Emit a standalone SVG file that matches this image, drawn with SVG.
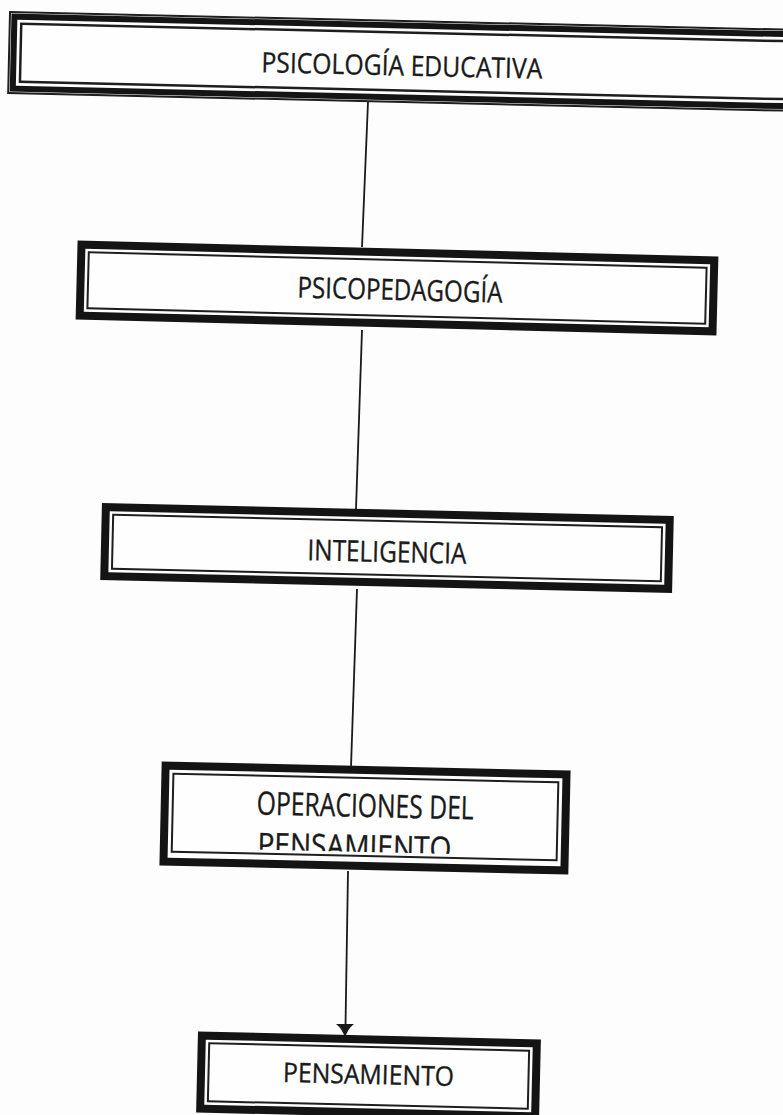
<svg xmlns="http://www.w3.org/2000/svg" width="783" height="1115" viewBox="0 0 783 1115">
<style>
.bg{fill:#fdfdfd}
.thick{fill:none;stroke:#141414;stroke-width:8}
.thin{fill:none;stroke:#1e1e1e;stroke-width:2}
.box{fill:#fefefe}
.lbl{font-family:"Open Sans","Liberation Sans",sans-serif;fill:#1a1a1a;stroke:#1a1a1a;stroke-width:0.35;text-anchor:middle}
.conn{stroke:#1a1a1a;stroke-width:1.8;fill:none}
.head{fill:#1a1a1a}
</style>
<defs>
<clipPath id="clip4"><rect x="-190" y="-42" width="380" height="76"/></clipPath>
</defs>
<rect class="bg" x="0" y="0" width="783" height="1115"/>
<g id="n1" transform="translate(408,61.6) rotate(1.3)">
<rect class="box" x="-400" y="-41.5" width="800" height="83"/>
<rect class="thin" x="-399" y="-40.5" width="798" height="81"/>
<rect class="thick" x="-394.5" y="-36" width="789" height="72" style="stroke-width:6"/>
<rect class="thin" x="-387.5" y="-29" width="775" height="58" style="stroke-width:2.5"/>
<text class="lbl" x="-6" y="14" font-size="28" textLength="281" lengthAdjust="spacingAndGlyphs">PSICOLOGÍA EDUCATIVA</text>
</g>
<g id="n2" transform="translate(397,288) rotate(1.43)">
<rect class="box" x="-320.5" y="-39.5" width="641" height="79"/>
<rect class="thick" x="-316.5" y="-35.5" width="633" height="71"/>
<rect class="thin" x="-309" y="-28" width="618" height="56"/>
<text class="lbl" x="3" y="12" font-size="29" textLength="205" lengthAdjust="spacingAndGlyphs">PSICOPEDAGOGÍA</text>
</g>
<g id="n3" transform="translate(387,548) rotate(1.3)">
<rect class="box" x="-286" y="-38.5" width="572" height="77"/>
<rect class="thick" x="-282" y="-34.5" width="564" height="69"/>
<rect class="thin" x="-274.5" y="-27" width="549" height="54"/>
<text class="lbl" x="0" y="14" font-size="29" textLength="159" lengthAdjust="spacingAndGlyphs">INTELIGENCIA</text>
</g>
<g id="n4" transform="translate(365,818) rotate(1.26)">
<rect class="box" x="-204.5" y="-52" width="409" height="104"/>
<rect class="thick" x="-200.5" y="-48" width="401" height="96"/>
<rect class="thin" x="-192.5" y="-40" width="385" height="78"/>
<g clip-path="url(#clip4)">
<text class="lbl" x="0" y="-1" font-size="32" textLength="217" lengthAdjust="spacingAndGlyphs">OPERACIONES DEL</text>
<text class="lbl" x="-10" y="40" font-size="32" textLength="194" lengthAdjust="spacingAndGlyphs">PENSAMIENTO</text>
</g>
</g>
<g id="n5" transform="translate(368.5,1076) rotate(1.34)">
<rect class="box" x="-171.5" y="-40.5" width="343" height="81"/>
<rect class="thick" x="-167.5" y="-36.5" width="335" height="73"/>
<rect class="thin" x="-160" y="-29" width="320" height="58"/>
<text class="lbl" x="0" y="8" font-size="27" textLength="171" lengthAdjust="spacingAndGlyphs">PENSAMIENTO</text>
</g>
<g id="connectors">
<line class="conn" x1="368" y1="102" x2="362" y2="247"/>
<line class="conn" x1="362" y1="330" x2="356" y2="509"/>
<line class="conn" x1="357" y1="589" x2="351" y2="767"/>
<line class="conn" x1="348" y1="871" x2="345.5" y2="1026"/>
<path class="head" d="M336,1024 L354,1024 Q347.5,1029 345,1038 Q342.5,1029 336,1024 z"/>
</g>
</svg>
